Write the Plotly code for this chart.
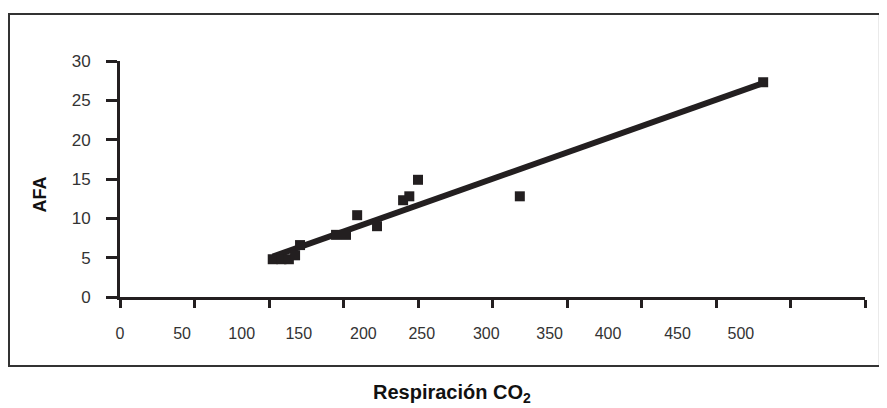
import numpy as np
import plotly.graph_objects as go

# Data
resp_co2 = [123, 130, 136, 141, 145, 174, 182, 191, 207, 228, 233, 240, 322, 518]
afa = [4.8, 4.8, 4.8, 5.3, 6.6, 7.9, 7.9, 10.4, 9.0, 12.3, 12.8, 14.9, 12.8, 27.3]

# Tick labels as printed (their positions along the axis are slightly irregular)
x_tick_text = ["0", "50", "100", "150", "200", "250", "300", "350", "400", "450", "500"]
x_tick_pos = [0, 50, 98, 144, 196, 243, 295, 346, 393, 449, 500]
y_tick_vals = [0, 5, 10, 15, 20, 25, 30]

INK = "#231f20"
TXT = "#333333"

slope, intercept = np.polyfit(resp_co2, afa, 1)
xl = np.array([min(resp_co2), max(resp_co2)])
yl = slope * xl + intercept

fig = go.Figure()
fig.add_trace(go.Scatter(x=xl, y=yl, mode="lines",
                         line=dict(color=INK, width=6), showlegend=False,
                         hoverinfo="skip"))
fig.add_trace(go.Scatter(x=resp_co2, y=afa, mode="markers",
                         marker=dict(symbol="square", size=10, color=INK,
                                     line=dict(width=0)),
                         showlegend=False))
# invisible trace to activate the label axis
fig.add_trace(go.Scatter(x=[0], y=[0], xaxis="x2", mode="markers",
                         marker=dict(opacity=0), showlegend=False,
                         hoverinfo="skip"))

fig.update_layout(
    width=879, height=400,
    margin=dict(l=112, r=22, t=53, b=111),
    paper_bgcolor="white", plot_bgcolor="white",
    font=dict(family="Liberation Sans, Arial, sans-serif", color=TXT, size=16),
    xaxis=dict(range=[0, 600], tick0=0, dtick=60, showticklabels=False,
               ticks="outside", ticklen=8, tickwidth=3, tickcolor=INK,
               showline=True, linewidth=3, linecolor=INK,
               showgrid=False, zeroline=False),
    xaxis2=dict(range=[0, 600], overlaying="x", anchor="y", side="bottom",
                tickmode="array", tickvals=x_tick_pos, ticktext=x_tick_text,
                ticks="outside", ticklen=22, tickcolor="rgba(0,0,0,0)",
                showline=False, showgrid=False, zeroline=False,
                tickfont=dict(size=16, color=TXT)),
    yaxis=dict(range=[0, 30], tickmode="array", tickvals=y_tick_vals,
               ticks="outside", ticklen=11, tickwidth=3, tickcolor=INK,
               showline=True, linewidth=3, linecolor=INK,
               showgrid=False, zeroline=False,
               tickfont=dict(size=17, color=TXT), ticklabelstandoff=12),
    shapes=[dict(type="rect", xref="paper", yref="paper",
                 x0=-0.149, x1=1.020, y0=-0.292, y1=1.199,
                 line=dict(color="#333333", width=2), fillcolor="rgba(0,0,0,0)",
                 layer="below")],
    annotations=[
        dict(text="<b>Respiración CO<sub>2</sub></b>", xref="paper", yref="paper",
             x=0.446, y=-0.407, showarrow=False, xanchor="center", yanchor="middle",
             font=dict(size=20, color="#111111")),
        dict(text="<b>AFA</b>", xref="paper", yref="paper",
             x=-0.107, y=0.436, showarrow=False, textangle=-90,
             xanchor="center", yanchor="middle",
             font=dict(size=18, color="#111111")),
    ],
)

fig.write_html("out.html")
